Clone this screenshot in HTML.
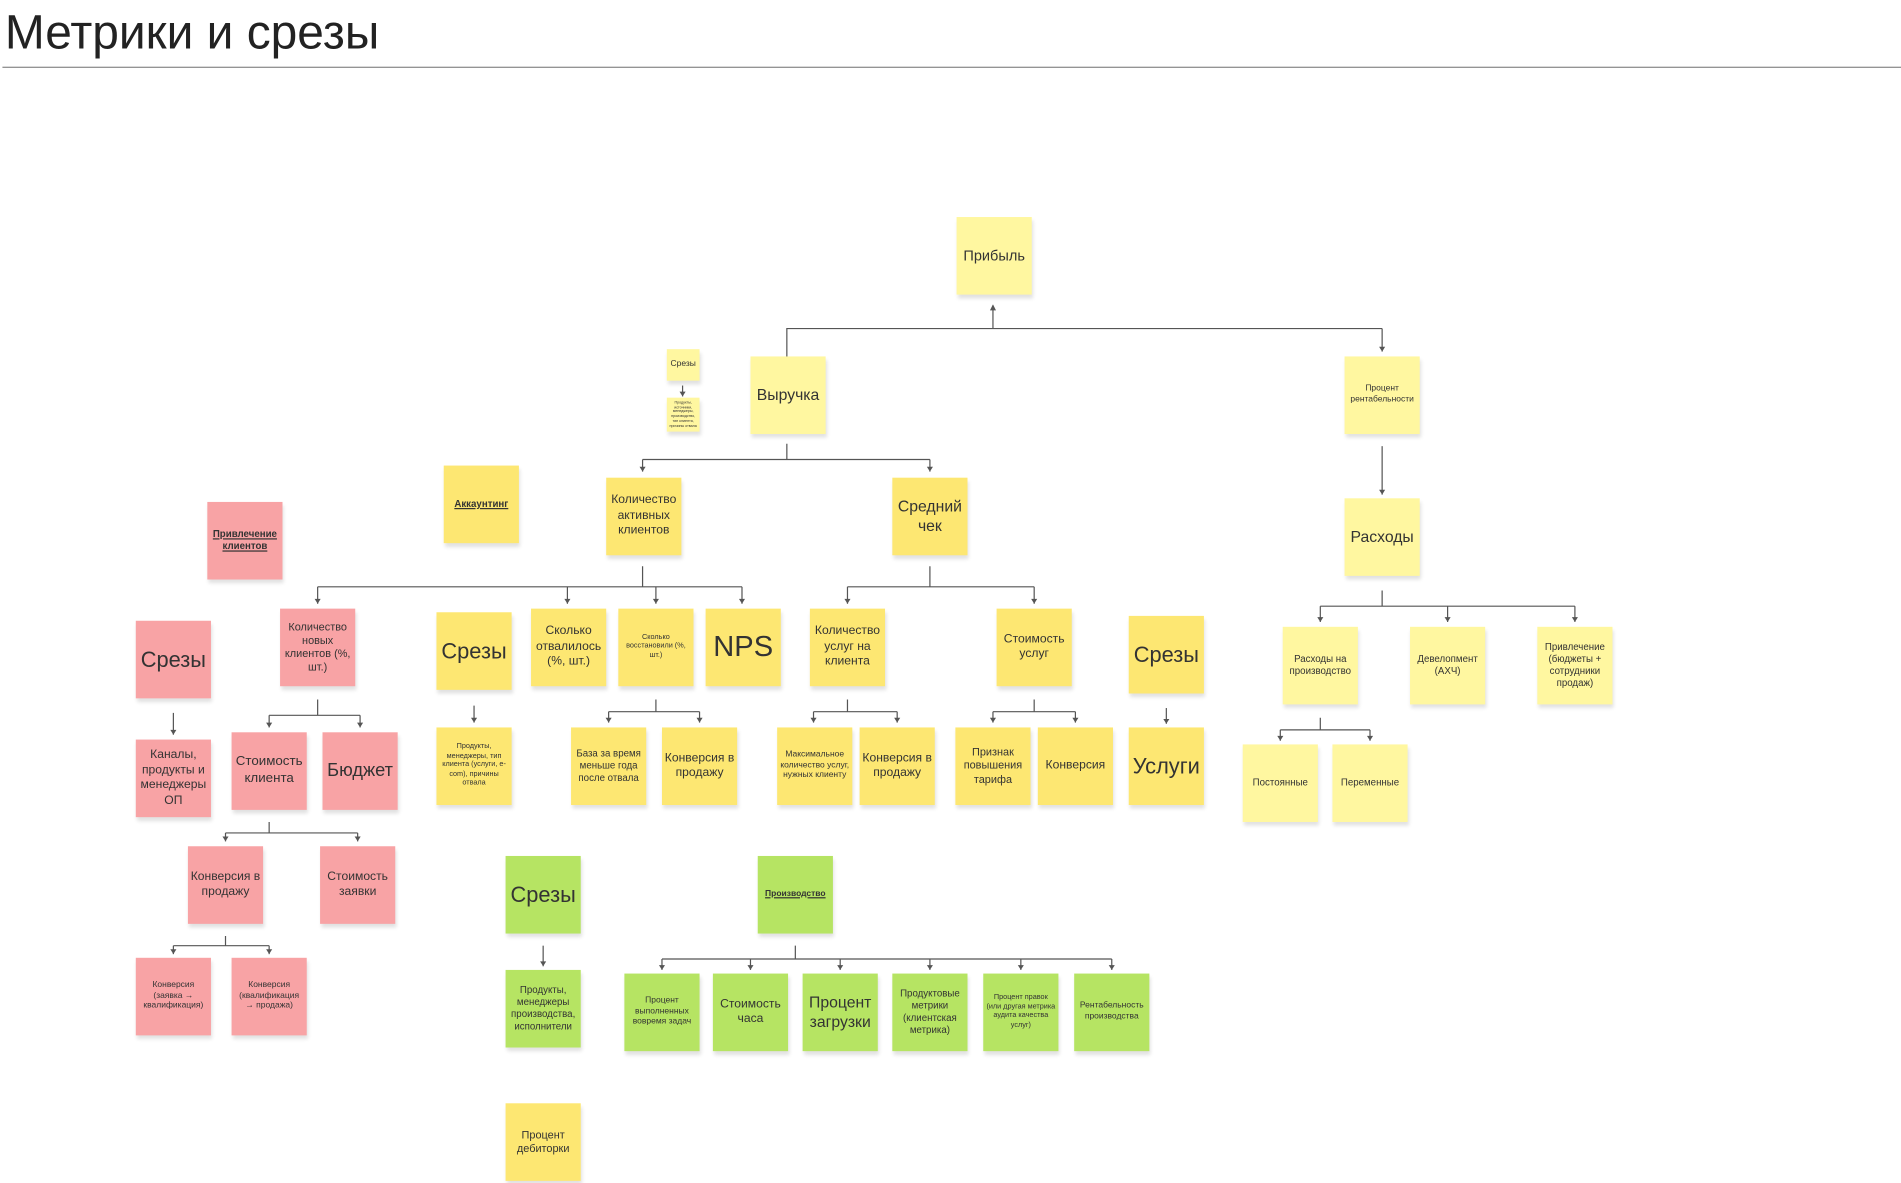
<!DOCTYPE html>
<html><head><meta charset="utf-8"><style>
html,body{margin:0;padding:0;background:#fff;width:1901px;height:1183px;overflow:hidden}
#w{position:absolute;left:0;top:0;width:1568px;height:976px;transform:scale(1.2124);transform-origin:0 0;font-family:"Liberation Sans","Noto Sans CJK SC",sans-serif}
h1{position:absolute;left:4px;top:5px;margin:0;font-weight:normal;font-size:39.5px;color:#222}
.ln{position:absolute;left:2px;top:55px;width:1566px;height:1px;background:#888}
.n{position:absolute;width:62px;height:64px;display:flex;align-items:center;justify-content:center;text-align:center;color:#333;line-height:1.25;box-shadow:1px 3px 3px rgba(0,0,0,.12);box-sizing:border-box;padding:2px}
.ly{background:#fff7a0}.y{background:#fde772}.p{background:#f8a3a5}.g{background:#b6e463}
.b{font-weight:bold;text-decoration:underline}
svg{position:absolute;left:0;top:0}
</style></head><body><div id="w">
<h1>Метрики и срезы</h1><div class="ln"></div>
<svg width="1568" height="976" fill="none" stroke="#555" stroke-width="1">
<defs><marker id="a" markerWidth="6" markerHeight="6" refX="3" refY="5" orient="0" markerUnits="userSpaceOnUse"><path d="M0.5,1 L3,5 L5.5,1" fill="#555" stroke="none"/></marker>
<marker id="u" markerWidth="6" markerHeight="6" refX="3" refY="1" orient="0" markerUnits="userSpaceOnUse"><path d="M0.5,5 L3,0 L5.5,5" fill="#555" stroke="none"/></marker></defs>
<path d="M819,271V252" marker-end="url(#u)"/>
<path d="M649,294V271H1140"/><path d="M1140,271V290" marker-end="url(#a)"/>
<path d="M563,318V327" marker-end="url(#a)"/>
<path d="M649,366V379"/><path d="M530,379H767"/><path d="M530,379V389" marker-end="url(#a)"/><path d="M767,379V389" marker-end="url(#a)"/>
<path d="M1140,368V408" marker-end="url(#a)"/>
<path d="M530,467V484M262,484H612"/><path d="M262,484V498" marker-end="url(#a)"/><path d="M468,484V498" marker-end="url(#a)"/><path d="M541,484V498" marker-end="url(#a)"/><path d="M612,484V498" marker-end="url(#a)"/>
<path d="M767,467V484M699,484H853"/><path d="M699,484V498" marker-end="url(#a)"/><path d="M853,484V498" marker-end="url(#a)"/>
<path d="M1140,487V500M1089,500H1299"/><path d="M1089,500V513" marker-end="url(#a)"/><path d="M1194,500V513" marker-end="url(#a)"/><path d="M1299,500V513" marker-end="url(#a)"/>
<path d="M143,588V606" marker-end="url(#a)"/>
<path d="M262,577V590M222,590H297"/><path d="M222,590V600" marker-end="url(#a)"/><path d="M297,590V600" marker-end="url(#a)"/>
<path d="M391,582V596" marker-end="url(#a)"/>
<path d="M541,577V587M502,587H577"/><path d="M502,587V596" marker-end="url(#a)"/><path d="M577,587V596" marker-end="url(#a)"/>
<path d="M699,577V587M671,587H740"/><path d="M671,587V596" marker-end="url(#a)"/><path d="M740,587V596" marker-end="url(#a)"/>
<path d="M853,577V587M819,587H887"/><path d="M819,587V596" marker-end="url(#a)"/><path d="M887,587V596" marker-end="url(#a)"/>
<path d="M962,584V597" marker-end="url(#a)"/>
<path d="M1089,592V602M1056,602H1130"/><path d="M1056,602V611" marker-end="url(#a)"/><path d="M1130,602V611" marker-end="url(#a)"/>
<path d="M222,678V687M186,687H295"/><path d="M186,687V694" marker-end="url(#a)"/><path d="M295,687V694" marker-end="url(#a)"/>
<path d="M186,772V780M143,780H222"/><path d="M143,780V787" marker-end="url(#a)"/><path d="M222,780V787" marker-end="url(#a)"/>
<path d="M448,780V797" marker-end="url(#a)"/>
<path d="M656,780V791M546,791H917"/><path d="M546,791V800" marker-end="url(#a)"/><path d="M619,791V800" marker-end="url(#a)"/><path d="M693,791V800" marker-end="url(#a)"/><path d="M767,791V800" marker-end="url(#a)"/><path d="M842,791V800" marker-end="url(#a)"/><path d="M917,791V800" marker-end="url(#a)"/>
</svg>
<div class="n ly" style="left:789px;top:179px;font-size:12px">Прибыль</div>
<div class="n ly" style="left:550px;top:288px;width:27px;height:26px;font-size:7px">Срезы</div>
<div class="n ly" style="left:550px;top:328px;width:27px;height:28px;font-size:3px">Продукты, источники, менеджеры, производство, тип клиента, причины отвала</div>
<div class="n ly" style="left:619px;top:294px;font-size:13px">Выручка</div>
<div class="n ly" style="left:1109px;top:294px;font-size:7px">Процент рентабельности</div>
<div class="n y b" style="left:366px;top:384px;font-size:8px">Аккаунтинг</div>
<div class="n p b" style="left:171px;top:414px;font-size:8px">Привлечение клиентов</div>
<div class="n y" style="left:500px;top:394px;font-size:10px">Количество активных клиентов</div>
<div class="n y" style="left:736px;top:394px;font-size:13px">Средний чек</div>
<div class="n ly" style="left:1109px;top:411px;font-size:13px">Расходы</div>
<div class="n p" style="left:112px;top:512px;font-size:18px">Срезы</div>
<div class="n p" style="left:231px;top:502px;font-size:9px">Количество новых клиентов (%, шт.)</div>
<div class="n y" style="left:360px;top:505px;font-size:18px">Срезы</div>
<div class="n y" style="left:438px;top:502px;font-size:10px">Сколько отвалилось (%, шт.)</div>
<div class="n y" style="left:510px;top:502px;font-size:6px">Сколько восстановили (%, шт.)</div>
<div class="n y" style="left:582px;top:502px;font-size:24px">NPS</div>
<div class="n y" style="left:668px;top:502px;font-size:10px">Количество услуг на клиента</div>
<div class="n y" style="left:822px;top:502px;font-size:10px">Стоимость услуг</div>
<div class="n y" style="left:931px;top:508px;font-size:18px">Срезы</div>
<div class="n ly" style="left:1058px;top:517px;font-size:8px">Расходы на производство</div>
<div class="n ly" style="left:1163px;top:517px;font-size:8px">Девелопмент (АХЧ)</div>
<div class="n ly" style="left:1268px;top:517px;font-size:8px">Привлечение (бюджеты + сотрудники продаж)</div>
<div class="n p" style="left:112px;top:610px;font-size:10px">Каналы, продукты и менеджеры ОП</div>
<div class="n p" style="left:191px;top:604px;font-size:11px">Стоимость клиента</div>
<div class="n p" style="left:266px;top:604px;font-size:15px">Бюджет</div>
<div class="n y" style="left:360px;top:600px;font-size:6px">Продукты, менеджеры, тип клиента (услуги, e-com), причины отвала</div>
<div class="n y" style="left:471px;top:600px;font-size:8px">База за время меньше года после отвала</div>
<div class="n y" style="left:546px;top:600px;font-size:10px">Конверсия в продажу</div>
<div class="n y" style="left:641px;top:600px;font-size:7px">Максимальное количество услуг, нужных клиенту</div>
<div class="n y" style="left:709px;top:600px;font-size:10px">Конверсия в продажу</div>
<div class="n y" style="left:788px;top:600px;font-size:9px">Признак повышения тарифа</div>
<div class="n y" style="left:856px;top:600px;font-size:10px">Конверсия</div>
<div class="n y" style="left:931px;top:600px;font-size:18px">Услуги</div>
<div class="n ly" style="left:1025px;top:614px;font-size:8px">Постоянные</div>
<div class="n ly" style="left:1099px;top:614px;font-size:8px">Переменные</div>
<div class="n p" style="left:155px;top:698px;font-size:10px">Конверсия в продажу</div>
<div class="n p" style="left:264px;top:698px;font-size:10px">Стоимость заявки</div>
<div class="n g" style="left:417px;top:706px;font-size:18px">Срезы</div>
<div class="n g b" style="left:625px;top:706px;font-size:7px">Производство</div>
<div class="n p" style="left:112px;top:790px;font-size:7px">Конверсия (заявка → квалификация)</div>
<div class="n p" style="left:191px;top:790px;font-size:7px">Конверсия (квалификация → продажа)</div>
<div class="n g" style="left:417px;top:800px;font-size:8px">Продукты, менеджеры производства, исполнители</div>
<div class="n g" style="left:515px;top:803px;font-size:7px">Процент выполненных вовремя задач</div>
<div class="n g" style="left:588px;top:803px;font-size:10px">Стоимость часа</div>
<div class="n g" style="left:662px;top:803px;font-size:13px">Процент загрузки</div>
<div class="n g" style="left:736px;top:803px;font-size:8px">Продуктовые метрики (клиентская метрика)</div>
<div class="n g" style="left:811px;top:803px;font-size:6px">Процент правок (или другая метрика аудита качества услуг)</div>
<div class="n g" style="left:886px;top:803px;font-size:7px">Рентабельность производства</div>
<div class="n y" style="left:417px;top:910px;font-size:9px">Процент дебиторки</div>
</div></body></html>
